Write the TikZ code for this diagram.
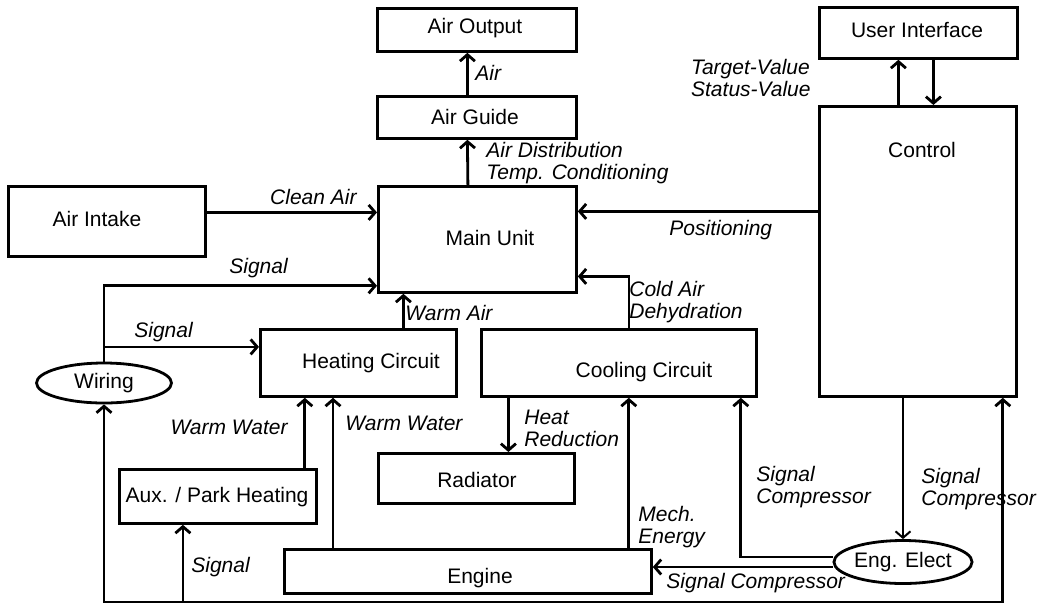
\documentclass[tikz,border=0pt]{standalone}
\usepackage{fontspec}
\setmainfont{Liberation Sans}
\usetikzlibrary{arrows.meta,shapes.geometric}
\begin{document}
\begin{tikzpicture}[x=1pt,y=-1pt,line width=2.8pt,line join=miter,
  box/.style={draw,rectangle,anchor=north west,inner sep=0pt},
  oval/.style={draw,ellipse,inner sep=0pt,font=\fontsize{21}{22}\selectfont},
  txt/.style={font=\fontsize{21}{22}\selectfont,inner sep=0pt},
  lbl/.style={font=\fontsize{21}{22}\selectfont\itshape,inner sep=0pt,align=left},
  arr/.style={-{Straight Barb[length=6.5pt,width=15pt]}},
  arrboth/.style={{Straight Barb[length=6.5pt,width=15pt]}-{Straight Barb[length=6.5pt,width=15pt]}}]
\useasboundingbox (0,0) rectangle (1041,606);
% boxes
\node[box,minimum width=199pt,minimum height=43pt] (out) at (376,7) {};
\node[box,minimum width=199pt,minimum height=42pt] (guide) at (376,95) {};
\node[box,minimum width=198pt,minimum height=106pt] (main) at (377,185) {};
\node[box,minimum width=197pt,minimum height=70pt] (intake) at (7,185) {};
\node[box,minimum width=198pt,minimum height=51pt] (ui) at (818,6) {};
\node[box,minimum width=197pt,minimum height=290pt] (ctrl) at (818,105) {};
\node[box,minimum width=196pt,minimum height=67pt] (heat) at (259,328) {};
\node[box,minimum width=275pt,minimum height=67pt] (cool) at (480,328) {};
\node[box,minimum width=196pt,minimum height=50pt] (rad) at (377,452) {};
\node[box,minimum width=197pt,minimum height=54pt] (aux) at (118,468) {};
\node[box,minimum width=367pt,minimum height=44pt] (eng) at (283,548) {};
\node[oval,minimum width=135pt,minimum height=40pt] (wiring) at (104,383) {Wiring};
\node[oval,minimum width=135pt,minimum height=43pt] (ee) at (903,562) {Eng. Elect};
% box texts
\node[txt] (outT) at (475,28) {Air Output};
\node[txt] (guideT) at (475,117) {Air Guide};
\node[txt] (mainT) at (490,238) {Main Unit};
\node[txt] (intakeT) at (97,219) {Air Intake};
\node[txt] (uiT) at (917,30) {User Interface};
\node[txt] (ctrlT) at (922,150) {Control};
\node[txt] (heatT) at (371,363) {Heating Circuit};
\node[txt] (coolT) at (644,372) {Cooling Circuit};
\node[txt] (radT) at (477,480) {Radiator};
\node[txt] (auxT) at (217,497) {Aux. / Park Heating};
\node[txt] (engT) at (480,578) {Engine};
% helper coordinates
\coordinate (ca) at ([yshift=9pt]intake.east);
\coordinate (ms) at ([yshift=8pt]main.south west);
\coordinate (hs) at ([yshift=16pt]heat.west);
\coordinate (wa) at ([xshift=45pt]heat.north);
\coordinate (cd) at ([xshift=10pt]cool.north);
\coordinate (ce) at ([yshift=-37pt]main.east);
\coordinate (po) at ([yshift=28pt]main.east);
\coordinate (tv) at ([xshift=-20pt]ui.south);
\coordinate (sv) at ([xshift=15pt]ui.south);
\coordinate (hr) at ([xshift=32pt]rad.north);
\coordinate (aw) at ([xshift=-13pt]aux.north east);
\coordinate (ew) at ([xshift=50pt]eng.north west);
\coordinate (me) at ([xshift=-24pt]eng.north east);
\coordinate (es) at ([xshift=-17pt]cool.south east);
\coordinate (busy) at (0,602);
\coordinate (cb) at ([xshift=-15pt]ctrl.south east);
\coordinate (as) at ([xshift=-35pt]aux.south);
% connectors
\draw[arr] ([xshift=-9.5pt]guide.north) -- ([xshift=-9.5pt]out.south);
\draw[arr] ([xshift=-9.5pt]main.north) -- ([xshift=-9.5pt]guide.south);
\draw[arr] (ca) -- (ca -| main.west);
\draw[arr] (wiring.north) |- (ms);
\draw[arr] (wiring.north |- hs) -- (hs);
\draw[arr] (wa) -- (wa |- main.south);
\draw[arr] (cd) |- (ce);
\draw[arr] (po -| ctrl.west) -- (po);
\draw[arr] (tv |- ctrl.north) -- (tv);
\draw[arr] (sv) -- (sv |- ctrl.north);
\draw[arr] (hr |- cool.south) -- (hr);
\draw[arr] (aw) -- (aw |- heat.south);
\draw[arr] (ew) -- (ew |- heat.south);
\draw[arr] (me) -- (me |- cool.south);
\draw[arr] ([yshift=5pt]ee.west) -| (es);
\draw[arr] ([yshift=-5pt]ee.west) -- ([yshift=-5pt]ee.west -| eng.east);
\draw[arr,line width=2pt] (ee.north |- ctrl.south) -- (ee.north);
\draw[arrboth] (wiring.south) -- (wiring.south |- busy) -- (cb |- busy) -- (cb);
\draw[arr] (as |- busy) -- (as);
% labels
\node[lbl,anchor=west] (lAir) at (474,73) {Air};
\node[lbl,anchor=west] (lAD) at (485,163) {Air Distribution\\Temp. Conditioning};
\node[lbl,anchor=east] (lCA) at (358,197) {Clean Air};
\node[lbl,anchor=west] (lS1) at (228,268) {Signal};
\node[lbl,anchor=west] (lS2) at (133,332) {Signal};
\node[lbl,anchor=west] (lWA) at (404,313) {Warm Air};
\node[lbl,anchor=west] (lCD) at (628,302) {Cold Air\\Dehydration};
\node[lbl,anchor=west] (lPos) at (668,230) {Positioning};
\node[lbl,anchor=east] (lTV) at (812,78) {Target-Value\\Status-Value};
\node[lbl,anchor=east] (lWW1) at (289,427) {Warm Water};
\node[lbl,anchor=west] (lWW2) at (344,423) {Warm Water};
\node[lbl,anchor=west] (lHR) at (523,428) {Heat\\Reduction};
\node[lbl,anchor=west] (lME) at (637,527) {Mech.\\Energy};
\node[lbl,anchor=west] (lSC1) at (755,487) {Signal\\Compressor};
\node[lbl,anchor=west] (lSC2) at (920,489) {Signal\\Compressor};
\node[lbl,anchor=west] (lSC3) at (665,583) {Signal Compressor};
\node[lbl,anchor=west] (lS3) at (190,567) {Signal};
\end{tikzpicture}
\end{document}
